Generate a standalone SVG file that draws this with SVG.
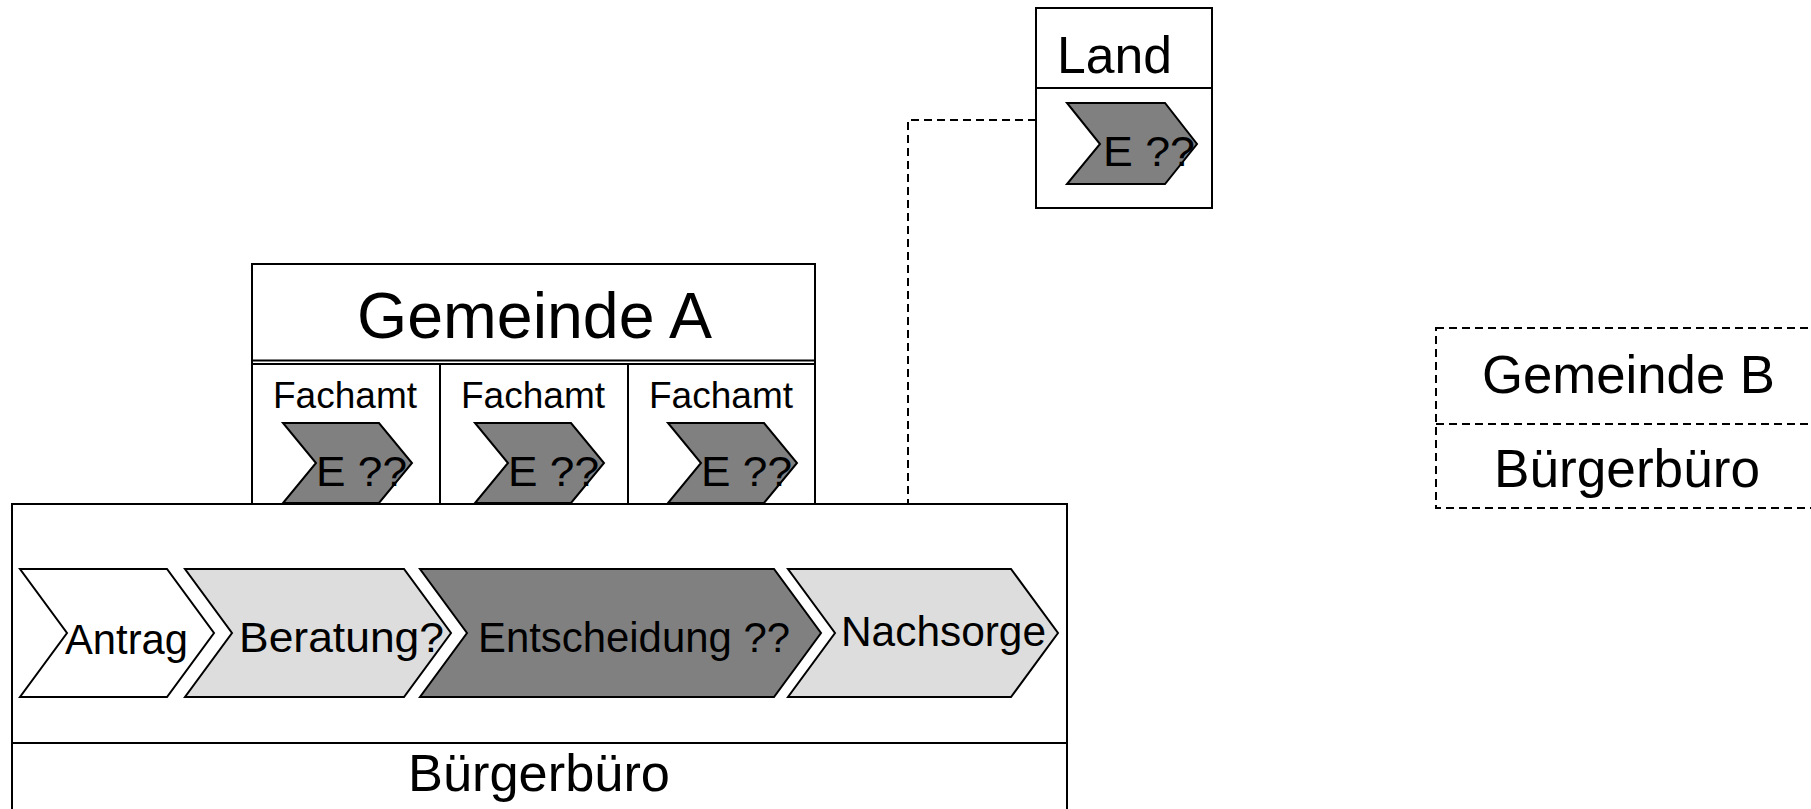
<svg xmlns="http://www.w3.org/2000/svg" width="1811" height="809" viewBox="0 0 1811 809">
<style>
.box{fill:#fff;stroke:#000;stroke-width:2}
.dbox{fill:#fff;stroke:#000;stroke-width:2;stroke-dasharray:8,5}
.ln{stroke:#000;stroke-width:2;fill:none}
.dl{stroke:#000;stroke-width:2;fill:none;stroke-dasharray:8,5}
.chev{stroke:#000;stroke-width:2;stroke-linejoin:miter}
.dark{fill:#808080}
.light{fill:#dddddd}
.white{fill:#ffffff}
text{font-family:"Liberation Sans",Arial,sans-serif;fill:#000}
</style>
<rect width="1811" height="809" fill="#fff"/>
<g id="connectors">
<polyline class="dl" points="1036,120 908,120 908,504"/>
</g>
<g id="land">
<rect class="box" x="1036" y="8" width="176" height="200"/>
<line class="ln" x1="1036" y1="88" x2="1212" y2="88"/>
<text x="1057" y="73" font-size="52" textLength="115" lengthAdjust="spacingAndGlyphs">Land</text>
<polygon class="chev dark" points="1067,103 1165,103 1197,144 1165,184 1067,184 1100,144"/>
<text x="1103" y="166" font-size="42" textLength="92" lengthAdjust="spacingAndGlyphs">E ??</text>
</g>
<g id="gemeinde-a">
<rect class="box" x="252" y="264" width="563" height="240"/>
<line class="ln" x1="252" y1="360.5" x2="815" y2="360.5" stroke-width="1.5"/>
<line class="ln" x1="252" y1="364" x2="815" y2="364" stroke-width="1.5"/>
<line class="ln" x1="440" y1="364" x2="440" y2="504"/>
<line class="ln" x1="628" y1="364" x2="628" y2="504"/>
<text x="357" y="338" font-size="65" textLength="355" lengthAdjust="spacingAndGlyphs">Gemeinde A</text>
<g id="fachamt-1">
<text x="273" y="408" font-size="37" textLength="144" lengthAdjust="spacingAndGlyphs">Fachamt</text>
<polygon class="chev dark" points="283,423 379,423 412,463 379,503 283,503 316,463"/>
<text x="316" y="486" font-size="42" textLength="91" lengthAdjust="spacingAndGlyphs">E ??</text>
</g>
<g id="fachamt-2">
<text x="461" y="408" font-size="37" textLength="144" lengthAdjust="spacingAndGlyphs">Fachamt</text>
<polygon class="chev dark" points="475,423 571,423 604,463 571,503 475,503 508,463"/>
<text x="508" y="486" font-size="42" textLength="91" lengthAdjust="spacingAndGlyphs">E ??</text>
</g>
<g id="fachamt-3">
<text x="649" y="408" font-size="37" textLength="144" lengthAdjust="spacingAndGlyphs">Fachamt</text>
<polygon class="chev dark" points="668,423 764,423 797,463 764,503 668,503 701,463"/>
<text x="701" y="486" font-size="42" textLength="91" lengthAdjust="spacingAndGlyphs">E ??</text>
</g>
</g>
<g id="buergerbuero-a">
<rect class="box" x="12" y="504" width="1055" height="310"/>
<line class="ln" x1="12" y1="743" x2="1067" y2="743"/>
<text x="408" y="791" font-size="52" textLength="262" lengthAdjust="spacingAndGlyphs">Bürgerbüro</text>
<g id="antrag">
<polygon class="chev white" points="20,569 167,569 214,633 167,697 20,697 67,633"/>
<text x="65" y="654" font-size="43" textLength="123" lengthAdjust="spacingAndGlyphs">Antrag</text>
</g>
<g id="beratung">
<polygon class="chev light" points="185,569 404,569 451,633 404,697 185,697 232,633"/>
<text x="239" y="652" font-size="43" textLength="205" lengthAdjust="spacingAndGlyphs">Beratung?</text>
</g>
<g id="entscheidung">
<polygon class="chev dark" points="420,569 774,569 821,633 774,697 420,697 467,633"/>
<text x="478" y="652" font-size="42" textLength="312" lengthAdjust="spacingAndGlyphs">Entscheidung ??</text>
</g>
<g id="nachsorge">
<polygon class="chev light" points="788,569 1011,569 1058,633 1011,697 788,697 835,633"/>
<text x="841" y="646" font-size="42" textLength="205" lengthAdjust="spacingAndGlyphs">Nachsorge</text>
</g>
</g>
<g id="gemeinde-b">
<rect class="dbox" x="1436" y="328" width="400" height="180"/>
<line class="dl" x1="1436" y1="424" x2="1811" y2="424"/>
<text x="1482" y="393" font-size="53" textLength="293" lengthAdjust="spacingAndGlyphs">Gemeinde B</text>
<text x="1494" y="487" font-size="53" textLength="266" lengthAdjust="spacingAndGlyphs">Bürgerbüro</text>
</g>
</svg>
